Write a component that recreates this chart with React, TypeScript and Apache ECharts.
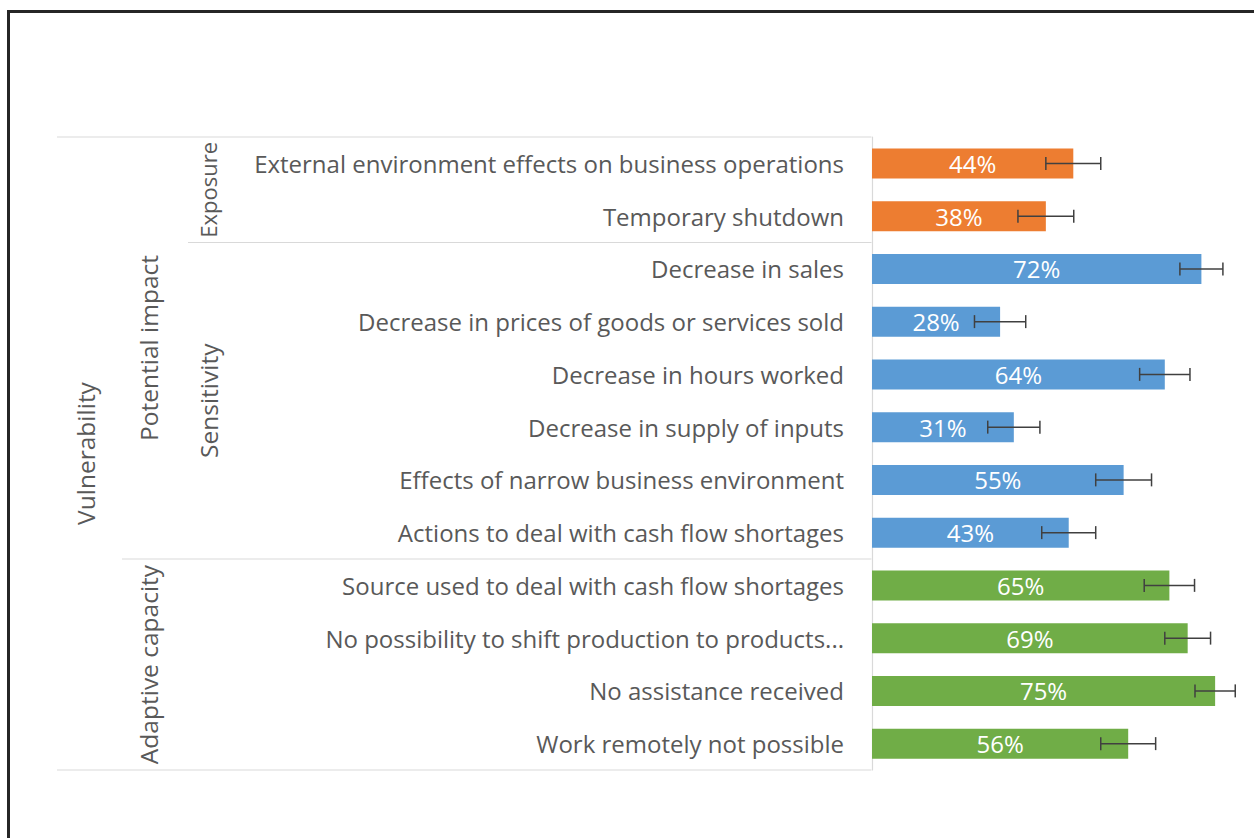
import React, { useEffect, useRef } from "react";
import * as echarts from "echarts";

const categories = [
  "External environment effects on business operations",
  "Temporary shutdown",
  "Decrease in sales",
  "Decrease in prices of goods or services sold",
  "Decrease in hours worked",
  "Decrease in supply of inputs",
  "Effects of narrow business environment",
  "Actions to deal with cash flow shortages",
  "Source used to deal with cash flow shortages",
  "No possibility to shift production to products...",
  "No assistance received",
  "Work remotely not possible",
];
const values = [44, 38, 72, 28, 64, 31, 55, 43, 65, 69, 75, 56];
const errors = [6.0, 6.1, 4.7, 5.6, 5.5, 5.7, 6.1, 5.9, 5.5, 5.0, 4.4, 6.0];
const colorGroup = ["exp", "exp", "sen", "sen", "sen", "sen", "sen", "sen", "ada", "ada", "ada", "ada"];
const groupColors: Record<string, string> = { exp: "#ED7D31", sen: "#5B9BD5", ada: "#70AD47" };

const FONT = "'Open Sans', 'Noto Sans', sans-serif";
const TXT = "#595959";

export default function App() {
  const ref = useRef<HTMLDivElement>(null);
  useEffect(() => {
    if (!ref.current) return;
    const chart = echarts.init(ref.current, null, { renderer: "svg" });
    const gridTop = 137;
    const gridBottomY = 770;
    const axisX = 871.5;
    const rowH = (gridBottomY - gridTop) / categories.length;
    const yAt = (i: number) => gridTop + rowH * i;
    const lineStyle = { stroke: "#d9d9d9", lineWidth: 1.2 };
    const groupLabel = (text: string, x: number, y: number, size = 24.5) => ({
      type: "text",
      x,
      y,
      rotation: Math.PI / 2,
      style: {
        text,
        fill: TXT,
        font: `${size}px ${FONT}`,
        align: "center",
        verticalAlign: "middle",
      },
    });
    chart.setOption({
      animation: false,
      backgroundColor: "#ffffff",
      grid: { left: 872, right: 16, top: gridTop, bottom: 838 - gridBottomY, containLabel: false },
      xAxis: {
        type: "value",
        min: 0,
        max: 80,
        show: false,
      },
      yAxis: {
        type: "category",
        inverse: true,
        data: categories,
        axisLine: { show: true, lineStyle: { color: "#d9d9d9", width: 1.2 } },
        axisTick: { show: false },
        axisLabel: { color: TXT, fontSize: 24, fontFamily: FONT, margin: 28 },
      },
      series: [
        {
          type: "bar",
          barWidth: 30,
          data: values.map((v, i) => ({ value: v, itemStyle: { color: groupColors[colorGroup[i]] } })),
          label: {
            show: true,
            position: "inside",
            color: "#ffffff",
            fontSize: 24,
            fontFamily: FONT,
            formatter: (p: any) => `${p.value}%`,
          },
        },
        {
          type: "custom",
          data: values.map((v, i) => [i, v, errors[i]]),
          encode: { x: 1, y: 0 },
          z: 5,
          renderItem: (params: any, api: any) => {
            const idx = api.value(0);
            const v = api.value(1);
            const e = api.value(2);
            const p1 = api.coord([v - e, idx]);
            const p2 = api.coord([v + e, idx]);
            const h = 6.5;
            const st = { stroke: "#404040", lineWidth: 1.5 };
            return {
              type: "group",
              children: [
                { type: "line", shape: { x1: p1[0], y1: p1[1], x2: p2[0], y2: p2[1] }, style: st },
                { type: "line", shape: { x1: p1[0], y1: p1[1] - h, x2: p1[0], y2: p1[1] + h }, style: st },
                { type: "line", shape: { x1: p2[0], y1: p2[1] - h, x2: p2[0], y2: p2[1] + h }, style: st },
              ],
            };
          },
        },
      ],
      graphic: [
        { type: "line", shape: { x1: 7, y1: 11.5, x2: 1254, y2: 11.5 }, style: { stroke: "#262626", lineWidth: 3 } },
        { type: "line", shape: { x1: 8.5, y1: 10, x2: 8.5, y2: 838 }, style: { stroke: "#262626", lineWidth: 3 } },
        { type: "line", shape: { x1: 57, y1: yAt(0), x2: axisX, y2: yAt(0) }, style: lineStyle },
        { type: "line", shape: { x1: 188, y1: yAt(2), x2: axisX, y2: yAt(2) }, style: lineStyle },
        { type: "line", shape: { x1: 122, y1: yAt(8), x2: axisX, y2: yAt(8) }, style: lineStyle },
        { type: "line", shape: { x1: 57, y1: yAt(12), x2: axisX, y2: yAt(12) }, style: lineStyle },
        groupLabel("Vulnerability", 85, (yAt(0) + yAt(12)) / 2),
        groupLabel("Potential impact", 148, (yAt(0) + yAt(8)) / 2),
        groupLabel("Adaptive capacity", 148, (yAt(8) + yAt(12)) / 2),
        groupLabel("Exposure", 208, (yAt(0) + yAt(2)) / 2, 22),
        groupLabel("Sensitivity", 208, (yAt(2) + yAt(8)) / 2),
      ],
    });
    return () => chart.dispose();
  }, []);
  return <div ref={ref} style={{ position: "fixed", left: 0, top: 0, width: 1254, height: 838 }} />;
}
